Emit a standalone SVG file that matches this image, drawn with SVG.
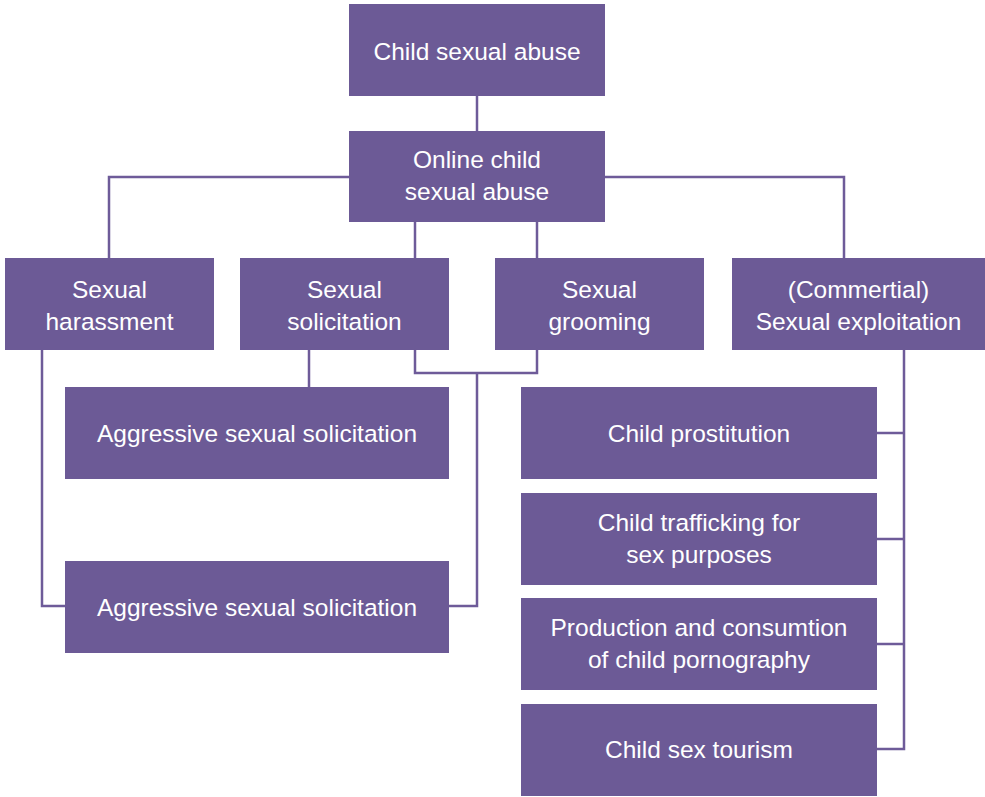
<svg xmlns="http://www.w3.org/2000/svg" width="985" height="797" viewBox="0 0 985 797">
<style>
.box{fill:#6c5a96;}
.t{fill:#ffffff;font-family:"Liberation Sans",Arial,sans-serif;font-size:24.5px;text-anchor:middle;}
.c{fill:none;stroke:#6e5b99;stroke-width:2.5;}
</style>
<rect width="985" height="797" fill="#ffffff"/>
<g id="connectors">
<path class="c" d="M477 96V131"/>
<path class="c" d="M349 177H109V258"/>
<path class="c" d="M605 177H844V258"/>
<path class="c" d="M415 222V258"/>
<path class="c" d="M537 222V258"/>
<path class="c" d="M415 350V373H537V350"/>
<path class="c" d="M477 373V606H449"/>
<path class="c" d="M309 350V387"/>
<path class="c" d="M42 350V606H65"/>
<path class="c" d="M904 350V749H877"/>
<path class="c" d="M877 433H904"/>
<path class="c" d="M877 539H904"/>
<path class="c" d="M877 644H904"/>
</g>
<g id="n-csa"><rect class="box" x="349" y="4" width="256" height="92"/><text class="t" x="477" y="60">Child sexual abuse</text></g>
<g id="n-ocsa"><rect class="box" x="349" y="131" width="256" height="91"/><text class="t" x="477" y="168">Online child</text><text class="t" x="477" y="200">sexual abuse</text></g>
<g id="n-harass"><rect class="box" x="5" y="258" width="209" height="92"/><text class="t" x="109.5" y="298">Sexual</text><text class="t" x="109.5" y="330">harassment</text></g>
<g id="n-solic"><rect class="box" x="240" y="258" width="209" height="92"/><text class="t" x="344.5" y="298">Sexual</text><text class="t" x="344.5" y="330">solicitation</text></g>
<g id="n-groom"><rect class="box" x="495" y="258" width="209" height="92"/><text class="t" x="599.5" y="298">Sexual</text><text class="t" x="599.5" y="330">grooming</text></g>
<g id="n-exploit"><rect class="box" x="732" y="258" width="253" height="92"/><text class="t" x="858.5" y="298">(Commertial)</text><text class="t" x="858.5" y="330">Sexual exploitation</text></g>
<g id="n-agg1"><rect class="box" x="65" y="387" width="384" height="92"/><text class="t" x="257" y="442">Aggressive sexual solicitation</text></g>
<g id="n-agg2"><rect class="box" x="65" y="561" width="384" height="92"/><text class="t" x="257" y="616">Aggressive sexual solicitation</text></g>
<g id="n-prost"><rect class="box" x="521" y="387" width="356" height="92"/><text class="t" x="699" y="442">Child prostitution</text></g>
<g id="n-traff"><rect class="box" x="521" y="493" width="356" height="92"/><text class="t" x="699" y="531">Child trafficking for</text><text class="t" x="699" y="563">sex purposes</text></g>
<g id="n-porn"><rect class="box" x="521" y="598" width="356" height="92"/><text class="t" x="699" y="636">Production and consumtion</text><text class="t" x="699" y="668">of child pornography</text></g>
<g id="n-tour"><rect class="box" x="521" y="704" width="356" height="92"/><text class="t" x="699" y="758">Child sex tourism</text></g>
</svg>
